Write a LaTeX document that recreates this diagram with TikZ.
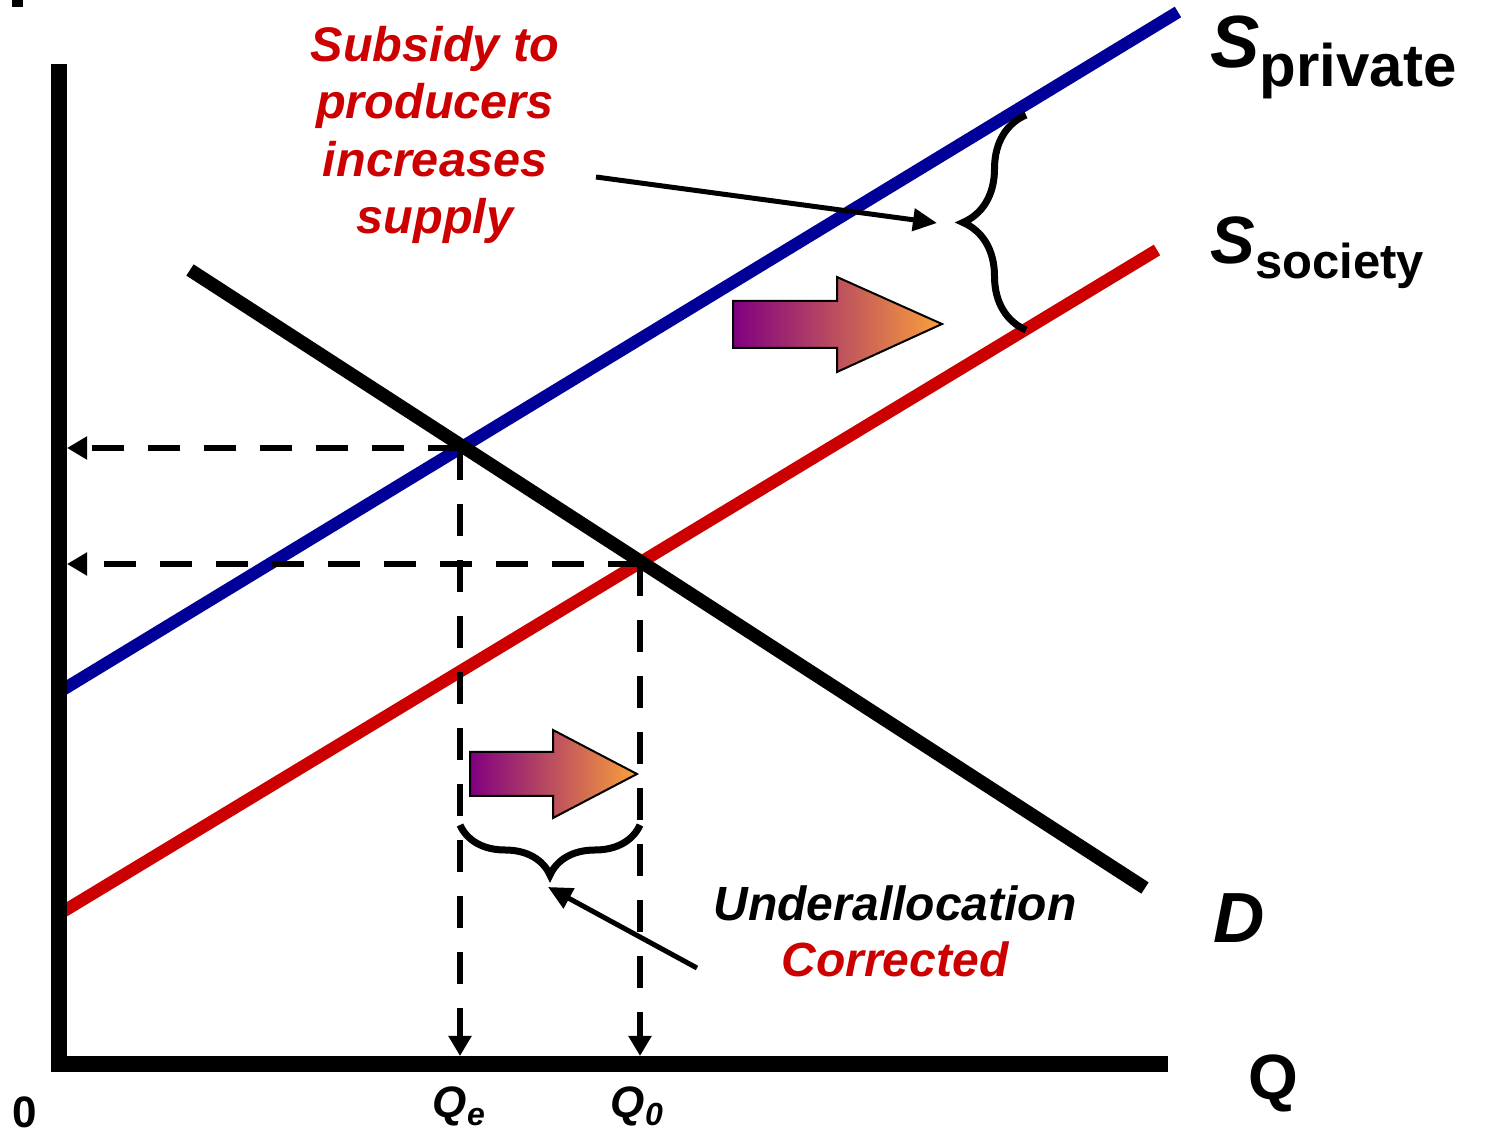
\documentclass[tikz,border=0pt]{standalone}
\usepackage{fontspec}
\setmainfont{Liberation Sans}
\usetikzlibrary{arrows.meta,decorations.pathreplacing}
\definecolor{privblue}{RGB}{0,0,153}
\definecolor{socred}{RGB}{204,0,0}
\definecolor{shadepurple}{RGB}{128,0,128}
\definecolor{shadeorange}{RGB}{250,160,60}

\begin{document}
\begin{tikzpicture}[x=0.5pt,y=-0.5pt,
  curve/.style={line width=6.2pt},
  guide/.style={line width=3pt,dash pattern=on 16pt off 12pt,-{Triangle[length=10pt,width=11pt]}},
  pointer/.style={line width=2.5pt,-{Triangle[length=12pt,width=11pt]}},
  shiftarrow/.style={draw=black,line width=1pt,left color=shadepurple,right color=shadeorange},
  bracket/.style={decorate,decoration={brace,amplitude=#1},line width=3.5pt},
  lbl/.style={inner sep=0pt}]
\useasboundingbox (0,0) rectangle (1485,1133);
% key points
\coordinate (O) at (59,1064);
\coordinate (Ep) at (460,448);
\coordinate (Es) at (640,564);
\coordinate (Yp) at (67,448);
\coordinate (Ys) at (67,564);
\coordinate (Xe) at (460,1056);
\coordinate (Xo) at (640,1056);
% supply and demand
\draw[curve,privblue] (59,692)--(1178,12);
\draw[curve,socred] (59,914)--(1157,250);
\draw[curve,black,line width=6.7pt] (190,270)--(1145,888);
% dashed guides
\draw[guide] (Ep)--(Yp);
\draw[guide] (Es)--(Ys);
\draw[guide] (Ep)--(Xe);
\draw[guide] (Es)--(Xo);
% axes
\draw[line width=8pt] (59,64)--(O)--(1168,1064);
\fill (12,0) rectangle (23,7);
% shift arrows
\path[shiftarrow] (733,301)--(837,301)--(837,277)--(942,324)--(837,372)--(837,348)--(733,348)--cycle;
\path[shiftarrow] (470,752)--(553,752)--(553,730)--(637,774)--(553,818)--(553,796)--(470,796)--cycle;
% braces
\draw[bracket=31.5pt] (1026,330)--(1026,115);
\draw[bracket=25pt] (640,825)--(460,825);
\coordinate (gapTip) at (963,223);
\coordinate (qTip) at (548,887);
% labels
\node[lbl,text=socred,align=center,font=\fontsize{24.3}{28.7}\selectfont\bfseries\itshape] (subsidy) at (435,135) {Subsidy to\\producers\\increases\\supply};
\node[lbl,align=center,font=\fontsize{24}{28}\selectfont\bfseries\itshape] (under) at (895,931) {Underallocation\\\textcolor{socred}{Corrected}};
\coordinate (subsidyTail) at (596,177);
\coordinate (underTail) at (697,968);
\draw[pointer] (subsidyTail)--([xshift=-13pt]gapTip);
\draw[pointer] (underTail)--(qTip);
\node[lbl,anchor=base west,font=\fontsize{37}{37}\selectfont\bfseries] (sprivate) at (1210,68) {\textit{S}\lower9.5pt\hbox{\fontsize{30}{30}\selectfont private}};
\node[lbl,anchor=base west,font=\fontsize{33.5}{33.5}\selectfont\bfseries] (ssociety) at (1210,264) {\textit{S}\lower7.5pt\hbox{\fontsize{24.5}{24.5}\selectfont society}};
\node[lbl,anchor=base west,font=\fontsize{35.5}{35.5}\selectfont\bfseries\itshape] (dlabel) at (1213,943) {D};
\node[lbl,anchor=base west,font=\fontsize{32}{32}\selectfont\bfseries] (qlabel) at (1248,1100) {Q};
\node[lbl,anchor=base,font=\fontsize{22}{22}\selectfont\bfseries] (origin) at (25,1127) {0};
\node[lbl,anchor=base,font=\fontsize{22}{22}\selectfont\bfseries\itshape] (qe) at (459,1117) {Q\lower4pt\hbox{\fontsize{16}{16}\selectfont e}};
\node[lbl,anchor=base,font=\fontsize{22}{22}\selectfont\bfseries\itshape] (qo) at (637,1117) {Q\lower4pt\hbox{\fontsize{16}{16}\selectfont 0}};
\end{tikzpicture}
\end{document}
